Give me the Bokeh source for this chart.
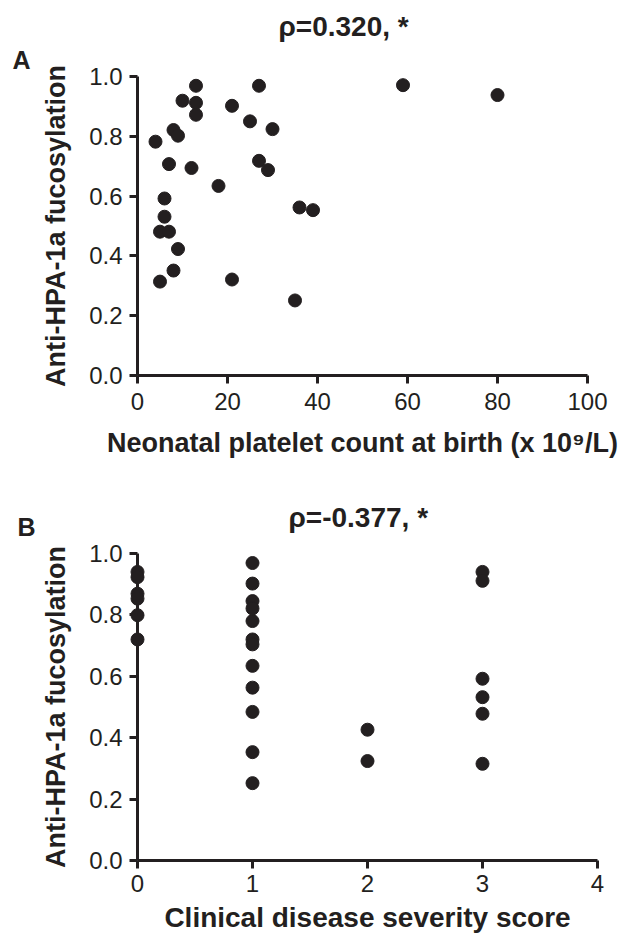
from bokeh.plotting import figure
from bokeh.layouts import column
from bokeh.models import Range1d, FixedTicker, PrintfTickFormatter, Label
from bokeh.embed import file_html
from bokeh.resources import INLINE

# ---------------- data ----------------
platelet_count = [4, 5, 5, 7, 6, 6, 7, 8, 9, 8, 9, 10, 13, 13, 13, 12, 18, 21, 21,
                  25, 27, 27, 29, 30, 35, 36, 39, 59, 80]
fucosylation_a = [0.782, 0.314, 0.481, 0.481, 0.531, 0.592, 0.707, 0.821, 0.802,
                  0.351, 0.423, 0.919, 0.969, 0.912, 0.872, 0.694, 0.634, 0.902,
                  0.321, 0.850, 0.969, 0.718, 0.687, 0.824, 0.251, 0.562, 0.553,
                  0.971, 0.938]

severity_score = [0, 0, 0, 0, 0, 0,
                  1, 1, 1, 1, 1, 1, 1, 1, 1, 1, 1, 1,
                  2, 2,
                  3, 3, 3, 3, 3, 3]
fucosylation_b = [0.940, 0.923, 0.869, 0.853, 0.799, 0.720,
                  0.969, 0.902, 0.845, 0.821, 0.780, 0.720, 0.704, 0.634, 0.563,
                  0.484, 0.353, 0.252,
                  0.426, 0.324,
                  0.940, 0.911, 0.592, 0.532, 0.478, 0.315]

y_ticks = [0.0, 0.2, 0.4, 0.6, 0.8, 1.0]
x_ticks_a = [0, 20, 40, 60, 80, 100]
x_ticks_b = [0, 1, 2, 3, 4]

title_a = "ρ=0.320, *"
title_b = "ρ=-0.377, *"
y_label = "Anti-HPA-1a fucosylation"
x_label_a = "Neonatal platelet count at birth (x 10⁹/L)"
x_label_b = "Clinical disease severity score"

FONT = "Liberation Sans"
INK = "#231f20"


class Panel:
    """Canvas-wide frame; axes sit at the data origin via fixed_location."""

    def __init__(self, width, height, x_origin_px, x_px_per_unit, y_origin_px, y_px_per_unit,
                 x_max, y_max):
        self.x0, self.kx, self.y0, self.ky = x_origin_px, x_px_per_unit, y_origin_px, y_px_per_unit
        p = figure(width=width, height=height,
                   min_border_left=0, min_border_right=0, min_border_top=0, min_border_bottom=0,
                   x_range=Range1d(-x_origin_px / x_px_per_unit, (width - x_origin_px) / x_px_per_unit),
                   y_range=Range1d(-(height - y_origin_px) / y_px_per_unit, y_origin_px / y_px_per_unit),
                   output_backend="svg", toolbar_location=None)
        p.title.text = ""
        p.title.visible = False
        p.outline_line_color = None
        p.xgrid.visible = False
        p.ygrid.visible = False
        p.background_fill_color = "white"
        p.border_fill_color = "white"
        for ax in (p.xaxis[0], p.yaxis[0]):
            ax.fixed_location = 0
            ax.axis_line_width = 3
            ax.axis_line_color = INK
            ax.major_tick_line_width = 3
            ax.major_tick_line_color = INK
            ax.major_tick_out = 8
            ax.major_tick_in = 0
            ax.minor_tick_line_color = None
            ax.major_label_text_font = FONT
            ax.major_label_text_font_size = "24px"
            ax.major_label_text_color = INK
            ax.axis_label_text_font = FONT
            ax.axis_label_text_font_size = "27px"
            ax.axis_label_text_font_style = "bold"
            ax.axis_label_text_color = INK
        p.xaxis[0].bounds = (0, x_max)
        p.yaxis[0].bounds = (0, y_max)
        p.yaxis[0].major_label_standoff = 7
        p.yaxis[0].axis_label_standoff = 15
        p.yaxis[0].ticker = FixedTicker(ticks=y_ticks)
        p.yaxis[0].formatter = PrintfTickFormatter(format="%.1f")
        self.p = p

    def text(self, left_px, baseline_px, txt, size):
        self.p.add_layout(Label(x=(left_px - self.x0) / self.kx,
                                y=(self.y0 - baseline_px) / self.ky,
                                text=txt, text_font=FONT, text_font_size=size,
                                text_font_style="bold", text_align="left",
                                text_baseline="alphabetic", text_color=INK))


# ---------------- panel A ----------------
A = Panel(620, 480, 137, 4.5, 375, 299, x_ticks_a[-1], y_ticks[-1])
pa = A.p
pa.xaxis[0].ticker = FixedTicker(ticks=x_ticks_a)
pa.xaxis[0].major_label_standoff = 9
pa.xaxis[0].axis_label_standoff = 15
pa.xaxis[0].axis_label = x_label_a
pa.yaxis[0].axis_label = y_label
pa.scatter(platelet_count, fucosylation_a, size=13, fill_color=INK, line_color=INK)
A.text(278, 26, title_a, "28px")
A.text(12, 59, "A", "25px")

# ---------------- panel B ----------------
B = Panel(620, 454, 137, 115, 380, 307, x_ticks_b[-1], y_ticks[-1])
pb = B.p
pb.xaxis[0].ticker = FixedTicker(ticks=x_ticks_b)
pb.xaxis[0].major_label_standoff = 6
pb.xaxis[0].axis_label_standoff = 7
pb.xaxis[0].axis_label_text_font_size = "28px"
pb.xaxis[0].axis_label = x_label_b
pb.yaxis[0].axis_label = y_label
pb.scatter(severity_score, fucosylation_b, size=13, fill_color=INK, line_color=INK)
B.text(288, 37, title_b, "28px")
B.text(17, 46, "B", "25px")

layout = column(pa, pb, spacing=0)
open("out.html", "w").write(file_html(layout, INLINE))
